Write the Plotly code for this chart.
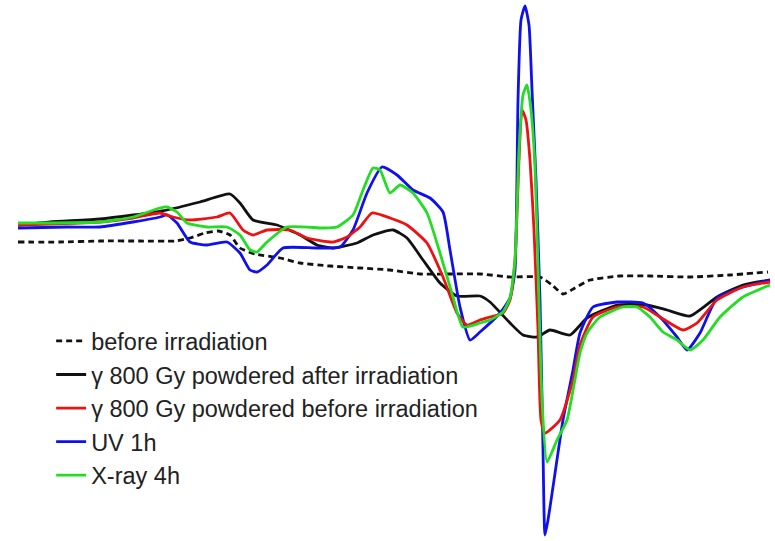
import plotly.graph_objects as go

# Field axis (arbitrary units, left->right) and signal (arbitrary units, read downward from the picture)
before_x = [18, 60, 100, 140, 175, 190, 205, 218, 230, 240, 255, 280, 300, 330, 360, 390, 420, 450, 480, 510, 540, 552, 563, 575, 590, 620, 650, 690, 730, 768]
before_y = [242, 242, 241, 241, 241, 238, 233, 231, 235, 248, 254, 258, 263, 266, 268, 270, 274, 274, 274, 277, 277, 285, 294, 288, 280, 276, 276, 277, 275, 272]

after_x = [18, 50, 100, 133, 167, 200, 230, 240, 253, 277, 300, 317, 333, 357, 373, 393, 407, 423, 440, 457, 480, 490, 510, 523, 537, 550, 570, 587, 617, 647, 667, 690, 717, 743, 770]
after_y = [225, 222, 219, 215, 210, 202, 194, 203, 220, 225, 235, 245, 248, 243, 235, 230, 238, 260, 283, 296, 296, 302, 323, 335, 337, 330, 335, 318, 305, 305, 310, 316, 297, 285, 280]

red_x = [18, 100, 133, 160, 173, 190, 217, 230, 243, 253, 267, 290, 307, 333, 347, 360, 372, 390, 407, 427, 443, 457, 467, 480, 490, 503, 510, 515, 519, 522, 526, 530, 534, 538, 541, 545, 560, 573, 580, 593, 617, 643, 660, 683, 697, 717, 743, 770]
red_y = [225, 222, 218, 213, 217, 220, 217, 213, 230, 235, 230, 230, 238, 242, 237, 227, 213, 218, 225, 243, 277, 313, 325, 320, 317, 313, 300, 260, 160, 110, 120, 160, 230, 330, 420, 433, 420, 380, 345, 317, 307, 307, 317, 330, 323, 300, 287, 282]

uv_x = [18, 67, 100, 133, 160, 167, 177, 190, 207, 227, 240, 250, 257, 267, 283, 317, 340, 353, 367, 382, 397, 413, 430, 443, 450, 460, 470, 480, 500, 510, 515, 518, 521, 525, 529, 532, 536, 540, 543, 545, 548, 553, 563, 573, 580, 593, 617, 643, 660, 677, 687, 700, 717, 743, 770]
uv_y = [228, 227, 227, 222, 217, 215, 223, 242, 245, 242, 253, 270, 272, 265, 248, 248, 247, 230, 193, 167, 175, 190, 198, 212, 250, 307, 340, 332, 313, 298, 270, 100, 20, 6, 25, 90, 180, 300, 450, 535, 520, 487, 420, 370, 333, 307, 302, 303, 317, 337, 350, 333, 298, 287, 280]

xray_x = [18, 100, 133, 160, 167, 177, 187, 207, 227, 240, 250, 257, 267, 287, 323, 337, 353, 363, 373, 380, 390, 400, 413, 427, 440, 453, 463, 480, 490, 503, 510, 515, 519, 523, 527, 531, 535, 538, 542, 547, 557, 567, 580, 587, 600, 623, 637, 650, 663, 677, 690, 703, 720, 743, 770]
xray_y = [223, 222, 217, 208, 207, 212, 223, 227, 227, 235, 250, 252, 242, 227, 228, 227, 215, 190, 168, 170, 193, 185, 193, 213, 253, 297, 327, 323, 320, 312, 298, 260, 150, 95, 85, 110, 167, 267, 400, 462, 440, 420, 353, 333, 317, 307, 307, 317, 332, 340, 350, 340, 317, 297, 285]

labels = ["before irradiation",
          "\u03b3 800 Gy powdered after irradiation",
          "\u03b3 800 Gy powdered before irradiation",
          "UV 1h",
          "X-ray 4h"]

fig = go.Figure()
LW = 2.8
series = [
    (before_x, before_y, labels[0], "#111111", "6px,4px", 1),
    (after_x, after_y, labels[1], "#111111", "solid", 2),
    (uv_x, uv_y, labels[3], "#1010ee", "solid", 4),
    (red_x, red_y, labels[2], "#ee1111", "solid", 3),
    (xray_x, xray_y, labels[4], "#22dd22", "solid", 5),
]
for xs, ys, name, col, dash, rank in series:
    fig.add_trace(go.Scatter(x=xs, y=ys, mode="lines", name=name,
                             legendrank=rank,
                             line=dict(color=col, width=LW, dash=dash,
                                       shape="spline", smoothing=0.5)))

fig.update_layout(
    width=775, height=541,
    margin=dict(l=0, r=0, t=0, b=0),
    paper_bgcolor="white", plot_bgcolor="white",
    xaxis=dict(range=[0, 775], visible=False),
    yaxis=dict(range=[541, 0], visible=False),
    showlegend=True,
    legend=dict(x=0.066, y=0.41, xanchor="left", yanchor="top",
                bgcolor="rgba(0,0,0,0)", tracegroupgap=0,
                font=dict(family="Liberation Sans, Arial", size=23.5, color="#222222")),
    font=dict(family="Liberation Sans, Arial"),
)

fig.write_html("out.html")
